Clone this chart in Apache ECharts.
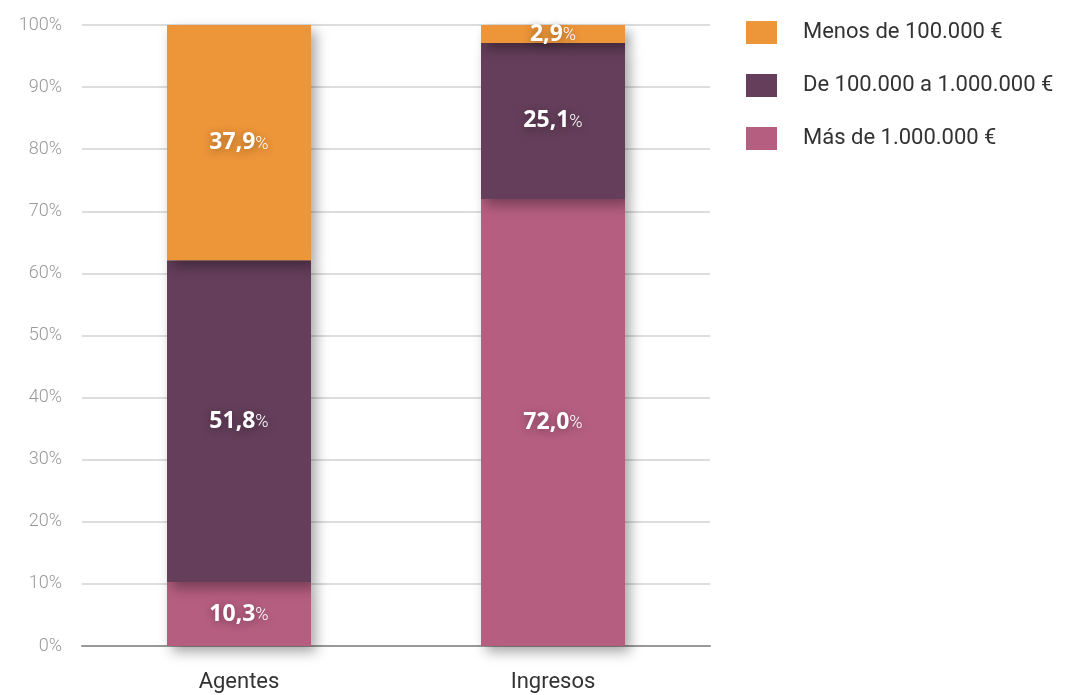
<!DOCTYPE html>
<html><head><meta charset="utf-8">
<script src="https://cdn.jsdelivr.net/npm/echarts@6/dist/echarts.min.js"></script>
<style>html,body{margin:0;padding:0;background:#fff}#c{width:1076px;height:695px}</style>
</head><body><div id="c"></div>
<script>
const categories = ['Agentes', 'Ingresos'];
const seriesNames = ['Menos de 100.000 €', 'De 100.000 a 1.000.000 €', 'Más de 1.000.000 €'];
const masDe1M = [10.3, 72.0];
const de100kA1M = [51.8, 25.1];
const menosDe100k = [37.9, 2.9];
const colors = ['#EC9539', '#643E5A', '#B55E80'];

const chart = echarts.init(document.getElementById('c'));
const fmt = p => '{n|' + p.value.toFixed(1).replace('.', ',') + '}{p|%}';
const label = {
  show: true, position: 'inside', formatter: fmt,
  textShadowColor: 'rgba(0,0,0,0.35)', textShadowBlur: 8, textShadowOffsetY: 2,
  rich: {
    n: {color: '#fff', fontSize: 23, fontWeight: 'bold', fontFamily: 'Open Sans'},
    p: {color: '#fff', fontSize: 18, fontWeight: 300, fontFamily: 'Roboto', padding: [3, 0, 0, 0]}
  }
};
const itemStyle = c => ({color: c, shadowColor: 'rgba(0,0,0,0.35)', shadowBlur: 12, shadowOffsetX: 5, shadowOffsetY: 6});
const mk = (name, data, c) => ({name, type: 'bar', stack: 's', data, barWidth: 144, label, itemStyle: itemStyle(c), z: 3});

chart.setOption({
  animation: false,
  grid: {left: 82, right: 366, top: 25, bottom: 49},
  legend: {
    orient: 'vertical', left: 741, top: 16, itemWidth: 31, itemHeight: 23, itemGap: 30,
    icon: 'rect',
    data: seriesNames,
    textStyle: {fontSize: 22, color: '#333', fontFamily: 'Roboto', padding: [0, 0, 0, 21]}
  },
  xAxis: {
    type: 'category', data: categories,
    axisLine: {lineStyle: {color: '#999', width: 2}},
    axisTick: {show: false},
    axisLabel: {fontSize: 22, color: '#333', fontFamily: 'Roboto', margin: 25}
  },
  yAxis: {
    type: 'value', min: 0, max: 100, interval: 10,
    axisLabel: {formatter: '{value}%', fontSize: 18, color: '#999', fontFamily: 'Roboto', fontWeight: 300, margin: 20},
    splitLine: {lineStyle: {color: '#ddd', width: 2}},
    axisLine: {show: false}, axisTick: {show: false}
  },
  series: [
    mk(seriesNames[2], masDe1M, colors[2]),
    mk(seriesNames[1], de100kA1M, colors[1]),
    mk(seriesNames[0], menosDe100k, colors[0])
  ],
  color: [colors[2], colors[1], colors[0]]
});
</script></body></html>
